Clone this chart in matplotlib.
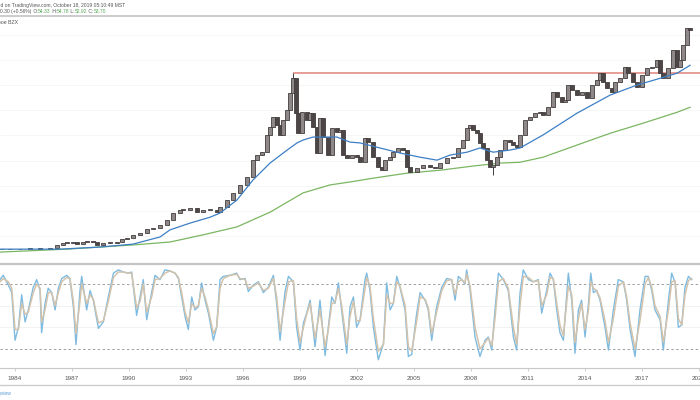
import matplotlib
matplotlib.use("Agg")
import matplotlib.pyplot as plt
from matplotlib.lines import Line2D

plt.rcParams['font.family'] = ['Liberation Sans', 'DejaVu Sans']

# closes (decimal year, price)
close_t = [1983.32, 1983.74, 1984.26, 1984.79, 1985.32, 1985.84, 1986.21, 1986.53, 1986.74, 1987.05,
           1987.26, 1987.58, 1987.79, 1988.11, 1988.32, 1988.63, 1989.00, 1989.37, 1989.63, 1989.89,
           1990.21, 1990.58, 1990.95, 1991.26, 1991.63, 1992.00, 1992.32, 1992.68, 1992.84, 1993.21,
           1993.58, 1993.89, 1994.26, 1994.63, 1994.79, 1995.16, 1995.47, 1995.84, 1996.21, 1996.53,
           1996.74, 1997.00, 1997.26, 1997.42, 1997.58, 1997.79, 1997.95, 1998.11, 1998.32, 1998.47,
           1998.63, 1998.79, 1998.89, 1999.11, 1999.37, 1999.53, 1999.68, 1999.89, 2000.05, 2000.21,
           2000.47, 2000.68, 2000.95, 2001.11, 2001.26, 2001.47, 2001.74, 2002.00, 2002.16, 2002.42,
           2002.58, 2002.84, 2003.11, 2003.32, 2003.47, 2003.74, 2003.89, 2004.16, 2004.42, 2004.63,
           2004.79, 2005.16, 2005.47, 2005.84, 2006.11, 2006.37, 2006.74, 2007.05, 2007.32, 2007.58,
           2007.79, 2007.95, 2008.11, 2008.32, 2008.47, 2008.63, 2008.84, 2009.00, 2009.16, 2009.37,
           2009.53, 2009.79, 2010.05, 2010.21, 2010.42, 2010.58, 2010.84, 2011.11, 2011.37, 2011.63,
           2011.79, 2012.05, 2012.32, 2012.53, 2012.79, 2012.95, 2013.11, 2013.32, 2013.58, 2013.84,
           2014.11, 2014.37, 2014.63, 2014.79, 2014.95, 2015.16, 2015.42, 2015.58, 2015.84, 2016.11,
           2016.26, 2016.53, 2016.74, 2017.00, 2017.26, 2017.53, 2017.79, 2017.95, 2018.11, 2018.37,
           2018.63, 2018.84, 2019.00, 2019.16, 2019.37, 2019.53]
close_p = [1.4, 1.4, 1.4, 1.7, 1.4, 1.7, 2.4, 2.9, 2.9, 3.1,
           2.6, 3.1, 3.3, 3.1, 2.4, 2.9, 2.9, 3.1, 3.8, 4.0,
           4.8, 5.2, 6.2, 6.4, 7.1, 8.3, 10.0, 10.7, 10.7, 11.2,
           10.2, 10.7, 10.7, 10.2, 11.4, 13.1, 14.8, 16.7, 18.6, 22.6,
           23.8, 24.5, 28.6, 30.5, 32.9, 31.0, 28.6, 32.1, 34.5, 38.6,
           42.1, 33.8, 29.0, 34.0, 32.1, 33.8, 30.5, 24.3, 32.6, 28.1,
           23.8, 30.2, 29.3, 29.8, 23.8, 23.1, 23.8, 23.3, 22.1, 27.9,
           26.9, 23.3, 21.0, 20.2, 22.6, 23.3, 24.5, 25.5, 25.0, 21.0,
           19.8, 20.7, 21.4, 21.0, 20.7, 21.9, 23.1, 23.3, 25.5, 27.4,
           30.2, 31.0, 29.8, 29.0, 26.7, 25.5, 22.6, 21.0, 21.4, 23.3,
           25.0, 27.4, 26.9, 26.2, 25.7, 28.6, 32.1, 32.9, 33.8, 34.0,
           33.3, 35.2, 38.8, 37.6, 36.4, 36.9, 40.5, 39.3, 38.1, 38.8,
           37.4, 40.5, 41.7, 43.3, 41.2, 39.8, 38.8, 41.2, 42.1, 44.8,
           43.3, 41.2, 40.0, 42.9, 44.5, 44.8, 46.4, 43.3, 42.1, 44.5,
           48.8, 44.8, 46.4, 50.0, 54.0, 53.7]

# the two long wicks that stand out
wick_t = [1998.63, 2009.16]
wick_p = [43.3, 19.0]

# moving averages
ma_fast_t = [1983.21, 1986.37, 1988.47, 1990.21, 1991.63, 1992.16, 1993.21, 1994.26, 1994.79, 1995.68,
             1996.53, 1997.42, 1998.32, 1998.84, 1999.16, 1999.68, 2000.21, 2000.95, 2001.63, 2002.16,
             2003.21, 2004.26, 2005.32, 2006.21, 2006.89, 2007.79, 2008.47, 2009.16, 2010.05, 2010.58,
             2011.79, 2013.58, 2015.32, 2016.74, 2017.95, 2018.84, 2019.53]
ma_fast_p = [1.4, 1.4, 1.9, 2.6, 4.3, 6.0, 7.6, 9.0, 10.0, 13.1,
             17.9, 21.9, 25.0, 26.7, 27.4, 28.1, 28.1, 28.1, 26.9, 26.7,
             25.5, 24.3, 23.3, 22.6, 23.8, 24.5, 25.5, 24.5, 25.0, 25.5,
             28.6, 33.8, 38.1, 40.5, 42.1, 43.3, 45.2]
ma_slow_t = [1983.21, 1986.74, 1990.21, 1992.16, 1993.89, 1995.68, 1997.42, 1999.16, 2000.58, 2001.63,
             2002.84, 2004.63, 2006.37, 2008.11, 2009.53, 2010.58, 2011.79, 2013.58, 2015.32, 2017.05,
             2018.84, 2019.53]
ma_slow_p = [0.7, 1.4, 2.4, 3.1, 4.8, 6.7, 10.2, 14.8, 16.7, 17.4,
             18.3, 19.5, 20.2, 21.2, 21.9, 22.1, 23.3, 26.2, 29.0, 31.4,
             34.0, 35.2]

# horizontal line drawn from the 1998 top
resistance_p = 43.3
resistance_t = 1998.63

# stochastic oscillator
stoch_t = [1983.21, 1983.38, 1983.65, 1983.83, 1984.00, 1984.18, 1984.35, 1984.53, 1984.70, 1984.96,
           1985.14, 1985.32, 1985.40, 1985.58, 1985.75, 1985.93, 1986.11, 1986.28, 1986.46, 1986.72,
           1986.89, 1987.07, 1987.21, 1987.42, 1987.51, 1987.77, 1987.95, 1988.12, 1988.39, 1988.65,
           1988.91, 1989.18, 1989.44, 1989.70, 1989.96, 1990.14, 1990.40, 1990.58, 1990.75, 1990.93,
           1991.19, 1991.37, 1991.63, 1991.89, 1992.16, 1992.42, 1992.60, 1992.77, 1992.95, 1993.12,
           1993.30, 1993.47, 1993.65, 1993.82, 1994.00, 1994.18, 1994.44, 1994.61, 1994.79, 1994.96,
           1995.32, 1995.67, 1995.84, 1996.11, 1996.28, 1996.54, 1996.81, 1997.07, 1997.33, 1997.60,
           1997.77, 1997.95, 1998.21, 1998.39, 1998.65, 1998.82, 1999.00, 1999.18, 1999.35, 1999.53,
           1999.79, 2000.05, 2000.32, 2000.49, 2000.67, 2000.84, 2001.02, 2001.19, 2001.46, 2001.63,
           2001.81, 2001.98, 2002.16, 2002.42, 2002.51, 2002.68, 2002.86, 2003.12, 2003.39, 2003.56,
           2003.74, 2003.91, 2004.09, 2004.26, 2004.53, 2004.70, 2004.88, 2005.14, 2005.32, 2005.58,
           2005.75, 2005.93, 2006.19, 2006.46, 2006.72, 2006.98, 2007.16, 2007.33, 2007.51, 2007.68,
           2007.77, 2007.95, 2008.21, 2008.47, 2008.74, 2008.91, 2009.09, 2009.26, 2009.44, 2009.70,
           2009.96, 2010.23, 2010.40, 2010.58, 2010.75, 2011.02, 2011.28, 2011.54, 2011.72, 2011.98,
           2012.16, 2012.33, 2012.51, 2012.68, 2012.86, 2013.12, 2013.30, 2013.47, 2013.65, 2013.82,
           2014.00, 2014.18, 2014.30, 2014.44, 2014.61, 2014.79, 2015.05, 2015.23, 2015.49, 2015.75,
           2016.02, 2016.19, 2016.37, 2016.63, 2016.89, 2017.16, 2017.33, 2017.51, 2017.68, 2017.95,
           2018.12, 2018.39, 2018.56, 2018.74, 2018.91, 2019.09, 2019.26, 2019.44, 2019.61]
stoch_k = [84, 88, 79, 72, 28, 40, 70, 45, 56, 77,
           84, 74, 35, 62, 76, 72, 56, 76, 85, 88,
           85, 59, 24, 74, 87, 56, 74, 65, 39, 45,
           68, 90, 93, 91, 90, 91, 51, 68, 84, 47,
           72, 88, 84, 93, 92, 90, 85, 68, 50, 38,
           68, 56, 59, 81, 65, 53, 28, 40, 84, 87,
           88, 90, 84, 85, 73, 79, 82, 72, 77, 88,
           62, 28, 73, 87, 82, 40, 19, 44, 53, 65,
           22, 65, 14, 40, 68, 62, 81, 56, 16, 59,
           68, 40, 47, 84, 90, 74, 40, 10, 25, 81,
           56, 62, 87, 77, 56, 13, 15, 53, 72, 65,
           56, 28, 59, 77, 85, 84, 65, 87, 84, 80,
           93, 74, 31, 13, 28, 31, 19, 56, 90, 84,
           74, 31, 19, 72, 93, 84, 82, 84, 53, 74,
           90, 84, 56, 35, 28, 90, 65, 16, 56, 65,
           31, 62, 90, 72, 74, 65, 40, 19, 56, 84,
           82, 65, 38, 13, 56, 87, 87, 74, 56, 47,
           19, 65, 90, 81, 40, 42, 77, 87, 84]
stoch_d = [82, 85, 82, 76, 38, 38, 62, 52, 54, 72,
           80, 76, 45, 56, 72, 72, 60, 72, 82, 86,
           85, 64, 34, 64, 80, 62, 70, 66, 44, 46,
           64, 86, 91, 91, 90, 90, 58, 64, 80, 54,
           68, 84, 85, 90, 92, 90, 86, 72, 54, 44,
           62, 58, 60, 76, 68, 56, 34, 40, 76, 85,
           88, 89, 85, 84, 76, 78, 81, 74, 76, 85,
           68, 36, 64, 82, 83, 48, 26, 40, 52, 62,
           30, 56, 22, 38, 62, 63, 76, 60, 24, 50,
           64, 46, 46, 76, 86, 78, 48, 18, 24, 70,
           62, 62, 82, 78, 60, 22, 18, 46, 68, 66,
           58, 34, 54, 74, 83, 84, 70, 82, 84, 81,
           89, 78, 40, 20, 26, 30, 23, 48, 82, 85,
           76, 40, 24, 60, 87, 86, 82, 83, 60, 70,
           86, 85, 62, 42, 32, 78, 70, 26, 48, 62,
           38, 56, 82, 76, 74, 67, 46, 26, 48, 78,
           82, 68, 44, 20, 46, 80, 86, 77, 60, 50,
           26, 56, 82, 83, 48, 42, 70, 83, 85]

year_ticks = [1984, 1987, 1990, 1993, 1996, 1999, 2002, 2005, 2008, 2011, 2014, 2017, 2020]

header_line1 = "Published on TradingView.com, October 18, 2019 05:10:49 MST"
header_change = "+0.30 (+0.56%)"
header_ohlc = [("O:", "54.33"), ("H:", "54.78"), ("L:", "52.92"), ("C:", "53.70")]
exchange = "Cboe BZX"


def fy(px):
    # pixel row from top -> figure fraction
    return 1 - px / 400.0


def draw_candles(ax, t, c):
    opens = [c[0]] + c[:-1]
    for ti, o, cl in zip(t, opens, c):
        lo, hi = min(o, cl), max(o, cl)
        h = max(hi - lo, 0.15)
        face = '#8f8888' if cl >= o else '#4d4646'
        ax.bar(ti, h, bottom=lo, width=0.2, color=face, edgecolor='#433d3d',
               linewidth=0.6, zorder=3)
    for ti, p in zip(wick_t, wick_p):
        i = t.index(ti)
        base = max(opens[i], c[i]) if p > c[i] else min(opens[i], c[i])
        ax.vlines(ti, base, p, color='#433d3d', lw=0.7, zorder=3)


fig = plt.figure(figsize=(7, 4), dpi=100)
fig.patch.set_facecolor('white')

x0, x1 = 1983.21, 2020.05

ax = fig.add_axes([0, fy(263), 1, fy(17) - fy(263)])
ax.set_xlim(x0, x1)
ax.set_ylim(-1.9, 56.7)
for g in [4.5, 10.5, 16.5, 22.5, 28.5, 34.5, 40.5, 46.5, 52.5]:
    ax.axhline(g, color='#f5f5f5', lw=0.6, zorder=0)
ax.plot(ma_slow_t, ma_slow_p, color='#7bb662', lw=0.9, zorder=2)
ax.plot(ma_fast_t, ma_fast_p, color='#3d7fc4', lw=0.9, zorder=4)
draw_candles(ax, close_t, close_p)
ax.hlines(resistance_p, resistance_t, x1, color='#e0837b', lw=1.1, zorder=2)
ax.set_xticks([])
ax.set_yticks([])
for s in ax.spines.values():
    s.set_visible(False)

ax2 = fig.add_axes([0, fy(368), 1, fy(265) - fy(368)])
ax2.set_xlim(x0, x1)
ax2.set_ylim(2.4, 97.5)
for g in [40, 60]:
    ax2.axhline(g, color='#f0f0f0', lw=0.6, zorder=0)
for g in [20, 80]:
    ax2.axhline(g, color='#a0a0a0', lw=0.7, ls=(0, (2.5, 2.5)), zorder=1)
ax2.plot(stoch_t, stoch_k, color='#7fbbe0', lw=1.0, zorder=2)
ax2.plot(stoch_t, stoch_d, color='#d3c3ac', lw=1.1, zorder=3)
ax2.set_yticks([])
ax2.set_xticks(year_ticks)
ax2.set_xticklabels([str(y) for y in year_ticks], fontsize=4.6, color='#555555')
ax2.tick_params(axis='x', length=2, width=0.5, color='#bbbbbb', pad=4)
for k, s in ax2.spines.items():
    s.set_visible(k == 'bottom')
ax2.spines['bottom'].set_color('#c8c8c8')
ax2.spines['bottom'].set_linewidth(0.8)

# separators
fig.add_artist(Line2D([0, 1], [fy(16), fy(16)], color='#cccccc', lw=1.4))
fig.add_artist(Line2D([0, 1], [fy(264), fy(264)], color='#c4c4c4', lw=1.6))
fig.add_artist(Line2D([0, 1], [fy(385), fy(385)], color='#cccccc', lw=1.0))

# header text (cropped on the left like the screenshot)
fig.text(-0.027, fy(5), header_line1, fontsize=3.6, color='#555555', va='center')
first = fig.text(-0.004, fy(11.5), header_change, fontsize=3.6, color='#555555', va='center')
fig.canvas.draw()
r = fig.canvas.get_renderer()
x_cur = first.get_window_extent(r).x1 / 700.0
for lab, val in header_ohlc:
    t1 = fig.text(x_cur, fy(11.5), " " + lab, fontsize=3.6, color='#555555', va='center')
    x_cur = t1.get_window_extent(r).x1 / 700.0
    t2 = fig.text(x_cur, fy(11.5), val, fontsize=3.6, color='#5aa85a', va='center')
    x_cur = t2.get_window_extent(r).x1 / 700.0

fig.text(-0.009, fy(23), exchange, fontsize=3.8, color='#555555', va='center')
fig.text(-0.02, fy(393), "tradingview", fontsize=3.6, color='#5b9bd5', va='center')

fig.savefig('out.png', dpi=100)
